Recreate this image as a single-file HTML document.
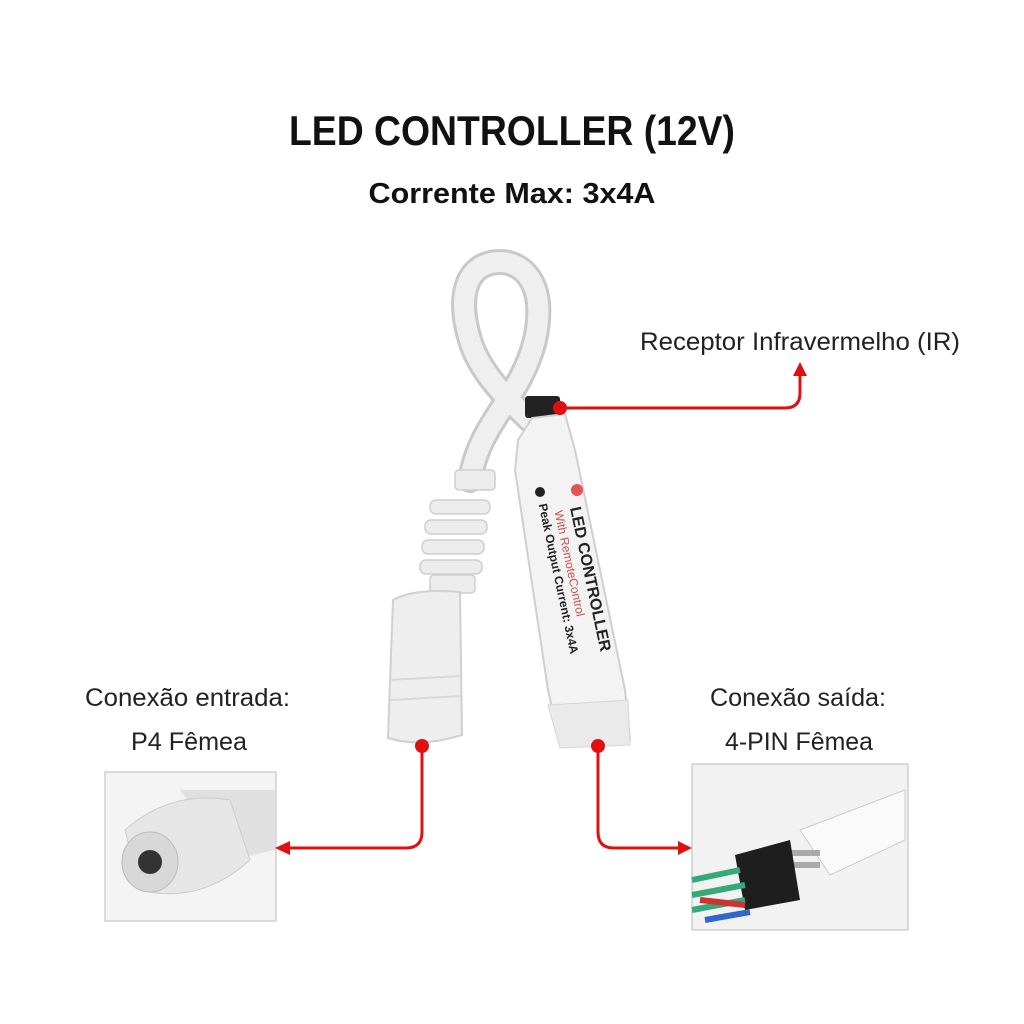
<!DOCTYPE html>
<html><head><meta charset="utf-8"><style>
html,body{margin:0;padding:0;background:#fff;}
svg{display:block}
text{font-family:"Liberation Sans",sans-serif;}
</style></head><body>
<svg width="1024" height="1024" viewBox="0 0 1024 1024" xmlns="http://www.w3.org/2000/svg">
<rect width="1024" height="1024" fill="#fff"/>
<text x="512" y="145" text-anchor="middle" font-size="42" font-weight="bold" textLength="446" lengthAdjust="spacingAndGlyphs" fill="#111">LED CONTROLLER (12V)</text>
<text x="512" y="203" text-anchor="middle" font-size="29" font-weight="bold" textLength="287" lengthAdjust="spacingAndGlyphs" fill="#111">Corrente Max: 3x4A</text>

<text x="640" y="350" font-size="25" textLength="320" lengthAdjust="spacingAndGlyphs" fill="#222">Receptor Infravermelho (IR)</text>
<text x="85" y="706" font-size="25" textLength="205" lengthAdjust="spacingAndGlyphs" fill="#222">Conexão entrada:</text>
<text x="131" y="750" font-size="25" textLength="116" lengthAdjust="spacingAndGlyphs" fill="#222">P4 Fêmea</text>
<text x="710" y="706" font-size="25" textLength="176" lengthAdjust="spacingAndGlyphs" fill="#222">Conexão saída:</text>
<text x="725" y="750" font-size="25" textLength="148" lengthAdjust="spacingAndGlyphs" fill="#222">4-PIN Fêmea</text>

<!-- cable loop -->
<path d="M470 480 C 480 420, 520 400, 535 340 C 548 280, 520 262, 500 262 C 470 262, 455 290, 470 340 C 482 380, 520 410, 540 430" fill="none" stroke="#c9c9c9" stroke-width="26" stroke-linecap="round"/>
<path d="M470 480 C 480 420, 520 400, 535 340 C 548 280, 520 262, 500 262 C 470 262, 455 290, 470 340 C 482 380, 520 410, 540 430" fill="none" stroke="#efefef" stroke-width="20" stroke-linecap="round"/>
<!-- strain relief ribs -->
<g fill="#ececec" stroke="#cfcfcf" stroke-width="1.5">
<rect x="455" y="470" width="40" height="20" rx="4"/>
<rect x="430" y="500" width="60" height="14" rx="6"/>
<rect x="425" y="520" width="62" height="14" rx="6"/>
<rect x="422" y="540" width="62" height="14" rx="6"/>
<rect x="420" y="560" width="62" height="14" rx="6"/>
<rect x="430" y="575" width="45" height="18" rx="4"/>
</g>
<!-- barrel -->
<path d="M393 600 Q 415 588 460 592 L 462 735 Q 420 748 388 738 Z" fill="#eeeeee" stroke="#d0d0d0" stroke-width="2"/>
<line x1="390" y1="680" x2="461" y2="676" stroke="#d8d8d8" stroke-width="2"/>
<line x1="390" y1="700" x2="461" y2="696" stroke="#d8d8d8" stroke-width="2"/>
<!-- IR receiver -->
<rect x="525" y="396" width="35" height="22" fill="#222" rx="3"/>
<!-- controller body -->
<path d="M518 440 L 532 418 L 565 414 L 575 450 L 625 690 L 630 740 L 560 745 L 548 690 L 515 470 Z" fill="#f3f3f3" stroke="#cfcfcf" stroke-width="2"/>
<path d="M548 705 L 628 700 L 630 745 L 560 748 Z" fill="#eaeaea" stroke="#d5d5d5"/>
<g transform="translate(570,508) rotate(78)" fill="#222">
<text x="0" y="0" font-size="16" font-weight="bold">LED CONTROLLER</text>
<text x="0" y="16" font-size="12" fill="#d05050">With RemoteControl</text>
<text x="-10" y="30" font-size="12" font-weight="bold">Peak Output Current: 3x4A</text>
</g>
<circle cx="577" cy="490" r="6" fill="#e05555"/>
<circle cx="540" cy="492" r="5" fill="#222"/>

<!-- left photo box -->
<rect x="105" y="772" width="171" height="149" fill="#f4f4f4" stroke="#bbb"/>
<path d="M180 790 L 275 790 L 275 850 L 230 860 Z" fill="#e0e0e0"/>
<path d="M125 830 Q 170 790 230 800 L 250 860 Q 200 905 140 890 Z" fill="#e6e6e6" stroke="#ccc"/>
<ellipse cx="150" cy="862" rx="28" ry="30" fill="#d8d8d8" stroke="#bbb"/>
<circle cx="150" cy="862" r="12" fill="#333"/>

<!-- right photo box -->
<rect x="692" y="764" width="216" height="166" fill="#f2f2f2" stroke="#bbb"/>
<path d="M800 830 L 905 790 L 905 840 L 830 875 Z" fill="#fafafa" stroke="#ccc"/>
<rect x="780" y="850" width="40" height="6" fill="#aaa"/>
<rect x="780" y="862" width="40" height="6" fill="#aaa"/>
<path d="M735 855 L 790 840 L 800 900 L 745 910 Z" fill="#1e1e1e"/>
<path d="M692 880 L 740 870 M692 895 L 745 885 M692 910 L 745 900" stroke="#3a7" stroke-width="6"/>
<path d="M700 900 L 745 905" stroke="#c33" stroke-width="6"/>
<path d="M705 920 L 750 912" stroke="#36c" stroke-width="6"/>

<!-- red connectors -->
<g stroke="#e01010" stroke-width="3" fill="none">
<path d="M560 408 L 785 408 Q 800 408 800 393 L 800 372"/>
<path d="M422 746 L 422 832 Q 422 848 406 848 L 290 848"/>
<path d="M598 746 L 598 832 Q 598 848 614 848 L 680 848"/>
</g>
<g fill="#e01010">
<circle cx="560" cy="408" r="7"/>
<circle cx="422" cy="746" r="7"/>
<circle cx="598" cy="746" r="7"/>
<path d="M800 362 L 793 376 L 807 376 Z"/>
<path d="M275 848 L 290 841 L 290 855 Z"/>
<path d="M692 848 L 678 841 L 678 855 Z"/>
</g>
</svg>
</body></html>
